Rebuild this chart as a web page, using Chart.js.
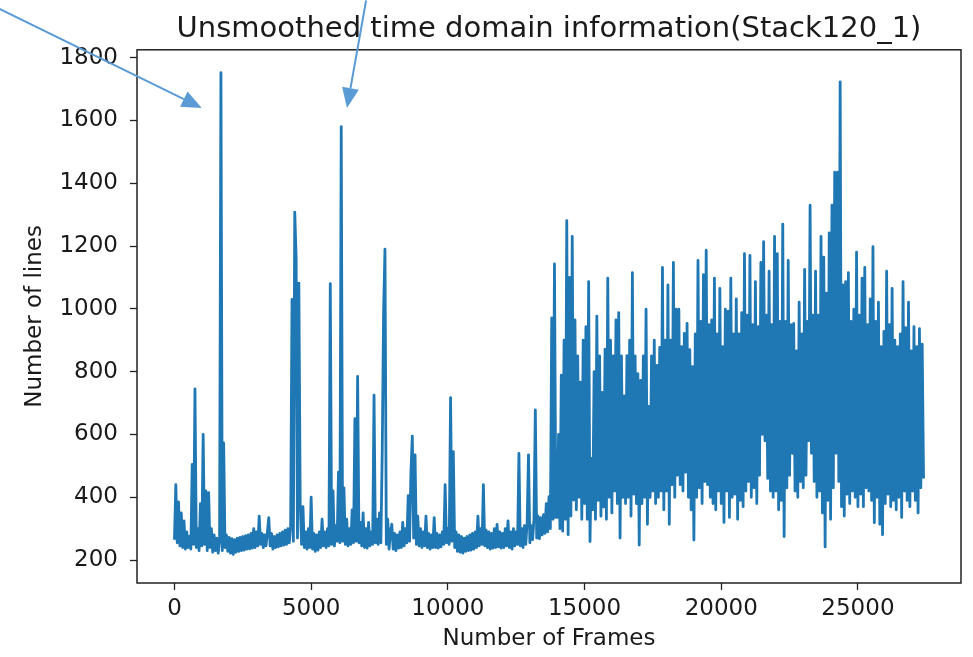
<!DOCTYPE html>
<html>
<head>
<meta charset="utf-8">
<script src="https://cdn.jsdelivr.net/npm/chart.js@4.4.0/dist/chart.umd.min.js"></script>
<style>
  html, body { margin: 0; padding: 0; background: #ffffff; }
  #wrap { width: 973px; height: 657px; position: relative; }
</style>
</head>
<body>
<div id="wrap"><canvas id="c" width="973" height="657"></canvas></div>
<script>
// ---------- text ----------
const chartTitle = 'Unsmoothed time domain information(Stack120_1)';
const xAxisLabel = 'Number of Frames';
const yAxisLabel = 'Number of lines';

// ---------- tick labels ----------
const xTicks = [0, 5000, 10000, 15000, 20000, 25000];
const yTicks = [200, 400, 600, 800, 1000, 1200, 1400, 1600, 1800];

// ---------- series (one every 50 frames; each row = 500 frames) ----------
const frameStep = 50;
const lines = [
  265, 440, 255, 385, 245, 350, 240, 325, 235, 290,      // 0
  240, 275, 235, 505, 250, 745, 240, 300, 230, 380,      // 500
  245, 600, 250, 420, 230, 415, 240, 300, 225, 280,      // 1000
  230, 270, 222, 260, 1752, 230, 573, 240, 280, 228,     // 1500
  272, 222, 268, 218, 265, 225, 270, 228, 272, 230,      // 2000
  275, 232, 278, 235, 280, 236, 285, 238, 300, 240,      // 2500
  290, 245, 340, 250, 285, 240, 280, 245, 290, 335,      // 3000
  245, 285, 235, 275, 240, 280, 242, 285, 245, 290,      // 3500
  248, 295, 250, 300, 255, 305, 1030, 260, 1308, 1165,   // 4000
  270, 1082, 380, 250, 370, 240, 290, 235, 300, 240,     // 4500
  400, 235, 285, 228, 280, 232, 290, 240, 330, 245,      // 5000
  290, 240, 300, 245, 1080, 250, 420, 245, 310, 260,     // 5500
  480, 255, 1580, 260, 430, 250, 330, 245, 300, 250,     // 6000
  360, 255, 650, 260, 785, 255, 320, 245, 350, 240,      // 6500
  300, 238, 320, 245, 290, 250, 725, 255, 330, 250,      // 7000
  350, 255, 545, 990, 1190, 250, 330, 235, 290, 314,     // 7500
  235, 285, 230, 280, 238, 290, 240, 320, 245, 300,      // 8000
  255, 405, 260, 480, 595, 270, 535, 250, 340, 245,      // 8500
  300, 240, 290, 245, 340, 240, 285, 235, 280, 240,      // 9000
  335, 240, 285, 238, 280, 242, 290, 250, 440, 255,      // 9500
  300, 250, 717, 260, 545, 240, 290, 228, 280, 225,      // 10000
  275, 222, 270, 228, 275, 230, 280, 232, 285, 235,      // 10500
  290, 240, 340, 245, 300, 250, 440, 245, 295, 240,      // 11000
  290, 235, 285, 238, 300, 240, 314, 242, 290, 238,      // 11500
  285, 240, 300, 245, 325, 240, 290, 235, 300, 245,      // 12000
  290, 250, 540, 245, 300, 240, 310, 250, 320, 535,      // 12500
  255, 310, 265, 330, 678, 270, 340, 268, 335, 280,      // 13000
  345, 285, 380, 290, 402, 300, 971, 330, 1143, 336,     // 13500
  336, 600, 300, 789, 292, 900, 330, 1281, 281, 1100,    // 14000
  340, 1231, 391, 965, 360, 850, 400, 767, 330, 900,     // 14500
  380, 943, 330, 1087, 259, 524, 360, 800, 330, 977,     // 15000
  390, 850, 340, 734, 369, 872, 330, 1098, 400, 900,     // 15500
  350, 850, 420, 965, 380, 988, 270, 850, 400, 723,      // 16000
  380, 851, 400, 900, 340, 1115, 410, 850, 380, 794,     // 16500
  248, 772, 380, 850, 400, 999, 314, 689, 400, 850,      // 17000
  420, 900, 380, 820, 400, 877, 420, 1132, 360, 900,     // 17500
  420, 1076, 314, 900, 440, 1148, 400, 999, 470, 999,    // 18000
  440, 880, 420, 922, 480, 954, 400, 870, 360, 816,      // 18500
  264, 920, 400, 1154, 430, 960, 380, 1109, 450, 1187,   // 19000
  440, 950, 400, 965, 380, 1098, 360, 920, 420, 1065,    // 19500
  380, 880, 320, 999, 420, 993, 336, 1098, 400, 920,     // 20000
  410, 1032, 330, 920, 390, 988, 370, 1176, 420, 980,    // 20500
  450, 1170, 400, 950, 430, 1087, 380, 943, 470, 1148,   // 21000
  600, 1214, 580, 980, 460, 1120, 420, 950, 400, 1231,   // 21500
  420, 1176, 360, 960, 390, 1270, 275, 960, 430, 1154,   // 22000
  470, 950, 540, 954, 420, 866, 400, 1021, 450, 920,     // 22500
  430, 1126, 470, 960, 580, 1330, 540, 980, 450, 1120,   // 23000
  400, 980, 420, 1231, 350, 1165, 242, 1050, 390, 1242,  // 23500
  330, 1330, 430, 1435, 540, 1435, 450, 1723, 370, 1076, // 24000
  340, 1087, 410, 1115, 380, 960, 420, 999, 400, 1181,   // 24500
  370, 980, 410, 1098, 370, 1132, 430, 950, 420, 1032,   // 25000
  390, 1198, 319, 960, 400, 1021, 314, 880, 281, 928,    // 25500
  380, 1120, 410, 950, 370, 1065, 390, 900, 360, 880,    // 26000
  400, 920, 336, 1087, 420, 940, 390, 1021, 370, 866,    // 26500
  420, 943, 390, 880, 350, 937, 430, 888, 460            // 27000
];
const frames = lines.map((_, i) => i * frameStep);

// ---------- annotation arrows (in data units: frame, lines) ----------
const arrowFromFrame = [-6420, 7010];
const arrowFromLines = [1956, 1982];
const arrowToFrame = [1000, 6310];
const arrowToLines = [1640, 1640];

// ---------- chart ----------
const FONT = 'DejaVu Sans, Verdana, sans-serif';
const TEXT = '#1a1a1a';

const framePlugin = {
  id: 'framePlugin',
  afterDatasetsDraw(chart) {
    const { ctx, chartArea: a } = chart;
    ctx.save();
    ctx.strokeStyle = '#222';
    ctx.lineWidth = 1.5;
    ctx.strokeRect(a.left, a.top, a.right - a.left, a.bottom - a.top);
    ctx.restore();
  },
  afterDraw(chart) {
    const { ctx } = chart;
    const xs = chart.scales.x, ys = chart.scales.y;
    ctx.save();
    ctx.strokeStyle = '#5b9bd5';
    ctx.fillStyle = '#5b9bd5';
    ctx.lineWidth = 2;
    for (let k = 0; k < arrowToFrame.length; k++) {
      const x0 = xs.getPixelForValue(arrowFromFrame[k]);
      const y0 = ys.getPixelForValue(arrowFromLines[k]);
      const x1 = xs.getPixelForValue(arrowToFrame[k]);
      const y1 = ys.getPixelForValue(arrowToLines[k]);
      const ang = Math.atan2(y1 - y0, x1 - x0);
      const headLen = 20, headHalf = 8.5;
      const bx = x1 - headLen * Math.cos(ang), by = y1 - headLen * Math.sin(ang);
      ctx.beginPath();
      ctx.moveTo(x0, y0);
      ctx.lineTo(bx, by);
      ctx.stroke();
      ctx.beginPath();
      ctx.moveTo(x1, y1);
      ctx.lineTo(bx + headHalf * Math.sin(ang), by - headHalf * Math.cos(ang));
      ctx.lineTo(bx - headHalf * Math.sin(ang), by + headHalf * Math.cos(ang));
      ctx.closePath();
      ctx.fill();
    }
    ctx.restore();
  }
};

new Chart(document.getElementById('c'), {
  type: 'line',
  data: {
    datasets: [{
      data: frames.map((f, i) => ({ x: f, y: lines[i] })),
      borderColor: '#1f77b4',
      backgroundColor: '#1f77b4',
      borderWidth: 2.8,
      borderJoinStyle: 'round',
      pointRadius: 0,
      tension: 0,
      fill: false
    }]
  },
  options: {
    responsive: false,
    animation: false,
    devicePixelRatio: 1,
    layout: { padding: { left: 0, right: 12, top: 0, bottom: 0 } },
    plugins: {
      legend: { display: false },
      tooltip: { enabled: false },
      title: {
        display: true,
        text: chartTitle,
        fullSize: false,
        color: TEXT,
        font: { family: FONT, size: 29, weight: 'normal', lineHeight: 1.2 },
        padding: { top: 12, bottom: 3 }
      }
    },
    scales: {
      x: {
        type: 'linear',
        min: -1370,
        max: 28770,
        afterFit(scale) { scale.height = 74; },
        afterBuildTicks(scale) { scale.ticks = xTicks.map(v => ({ value: v })); },
        grid: { display: true, drawOnChartArea: false, drawTicks: true, tickLength: 7, color: '#222', tickWidth: 1.3 },
        border: { display: false },
        ticks: {
          color: TEXT, padding: 5, maxRotation: 0, autoSkip: false,
          font: { family: FONT, size: 23 },
          callback: v => String(v)
        },
        title: {
          display: true, text: xAxisLabel, color: TEXT,
          font: { family: FONT, size: 23 },
          padding: { top: 0, bottom: 4 }
        }
      },
      y: {
        type: 'linear',
        min: 127,
        max: 1825,
        afterFit(scale) { scale.width = 137; },
        afterBuildTicks(scale) { scale.ticks = yTicks.map(v => ({ value: v })); },
        grid: { display: true, drawOnChartArea: false, drawTicks: true, tickLength: 7, color: '#222', tickWidth: 1.3 },
        border: { display: false },
        ticks: {
          color: TEXT, padding: 12, autoSkip: false,
          font: { family: FONT, size: 23 },
          callback: v => String(v)
        },
        title: {
          display: true, text: yAxisLabel, color: TEXT,
          font: { family: FONT, size: 23 },
          padding: { top: 21, bottom: 0 }
        }
      }
    }
  },
  plugins: [framePlugin]
});
</script>
</body>
</html>
